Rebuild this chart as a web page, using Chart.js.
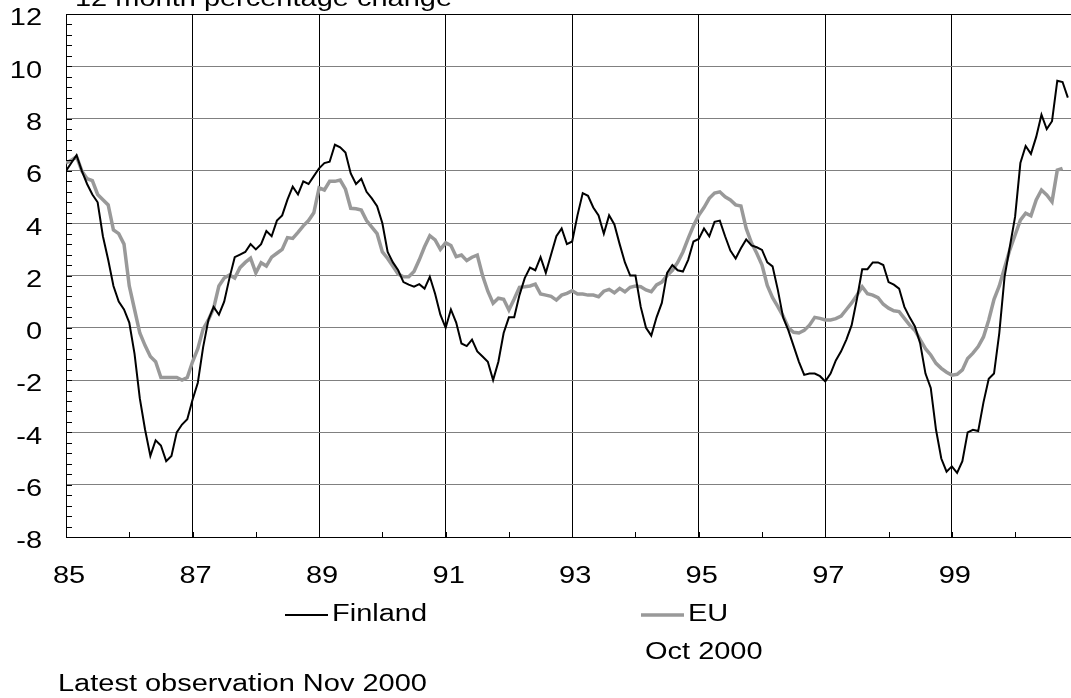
<!DOCTYPE html>
<html><head><meta charset="utf-8">
<script src="https://cdn.jsdelivr.net/npm/chart.js@4.4.0/dist/chart.umd.min.js"></script>
<style>html,body{margin:0;padding:0;background:#fff;overflow:hidden}canvas{display:block}</style>
</head><body>
<canvas id="c" width="1071" height="698"></canvas>
<script>
// Monthly 12-month % change, index 0 = Jan 1985
const finland = [
6.0, 6.3, 6.6, 6.0, 5.5, 5.1, 4.8, 3.5, 2.6, 1.6,
1.0, 0.7, 0.2, -1.0, -2.7, -3.9, -4.9, -4.3, -4.5, -5.1,
-4.9, -4.0, -3.7, -3.5, -2.75, -2.1, -0.75, 0.3, 0.8, 0.5,
1.0, 1.9, 2.7, 2.8, 2.9, 3.2, 3.0, 3.2, 3.7, 3.5,
4.1, 4.3, 4.9, 5.4, 5.1, 5.6, 5.5, 5.8, 6.1, 6.3,
6.35, 7.0, 6.9, 6.7, 5.9, 5.5, 5.7, 5.2, 4.95, 4.65,
4.0, 2.9, 2.5, 2.2, 1.75, 1.65, 1.57, 1.67, 1.5, 1.95,
1.3, 0.5, 0.0, 0.7, 0.2, -0.6, -0.7, -0.45, -0.9, -1.1,
-1.3, -2.0, -1.3, -0.2, 0.4, 0.4, 1.25, 1.9, 2.3, 2.2,
2.7, 2.1, 2.8, 3.5, 3.8, 3.2, 3.3, 4.3, 5.15, 5.05,
4.6, 4.3, 3.6, 4.3, 3.95, 3.2, 2.5, 2.0, 2.0, 0.8,
0.0, -0.3, 0.4, 0.95, 2.1, 2.4, 2.2, 2.15, 2.6, 3.3,
3.4, 3.8, 3.5, 4.05, 4.1, 3.5, 2.95, 2.65, 3.04, 3.38,
3.15, 3.08, 2.98, 2.5, 2.35, 1.45, 0.4, -0.1, -0.7, -1.3,
-1.8, -1.75, -1.75, -1.85, -2.05, -1.75, -1.25, -0.9, -0.45, 0.1,
1.1, 2.24, 2.24, 2.5, 2.5, 2.4, 1.75, 1.65, 1.5, 0.8,
0.4, 0.05, -0.6, -1.75, -2.3, -3.9, -5.0, -5.5, -5.3, -5.55,
-5.1, -4.0, -3.9, -3.95, -2.85, -1.95, -1.75, -0.2, 1.95, 3.1,
4.25, 6.3, 6.95, 6.65, 7.3, 8.15, 7.6, 7.9, 9.45, 9.4, 8.8
];
const eu = [
6.3, 6.4, 6.55, 6.0, 5.7, 5.63, 5.1, 4.9, 4.7, 3.74,
3.6, 3.2, 1.6, 0.7, -0.2, -0.68, -1.1, -1.3, -1.9, -1.9,
-1.9, -1.9, -2.0, -1.9, -1.3, -0.8, -0.05, 0.3, 0.75, 1.6,
1.9, 2.02, 1.9, 2.3, 2.5, 2.66, 2.1, 2.49, 2.36, 2.7,
2.85, 3.0, 3.45, 3.42, 3.65, 3.9, 4.1, 4.4, 5.35, 5.27,
5.6, 5.6, 5.65, 5.3, 4.57, 4.55, 4.5, 4.1, 3.85, 3.6,
2.9, 2.65, 2.35, 2.05, 1.95, 1.95, 2.15, 2.6, 3.1, 3.52,
3.36, 3.0, 3.25, 3.15, 2.72, 2.78, 2.57, 2.7, 2.78, 2.0,
1.4, 0.94, 1.13, 1.09, 0.68, 1.1, 1.55, 1.57, 1.6, 1.67,
1.29, 1.25, 1.2, 1.06, 1.25, 1.32, 1.42, 1.29, 1.29, 1.25,
1.25, 1.19, 1.4, 1.47, 1.34, 1.51, 1.38, 1.55, 1.6, 1.57,
1.45, 1.38, 1.64, 1.75, 2.0, 2.2, 2.5, 2.9, 3.42, 3.9,
4.3, 4.6, 4.95, 5.15, 5.2, 5.01, 4.89, 4.7, 4.66, 3.8,
3.25, 2.85, 2.4, 1.62, 1.15, 0.81, 0.45, 0.0, -0.17, -0.2,
-0.1, 0.1, 0.4, 0.36, 0.3, 0.3, 0.35, 0.45, 0.7, 0.95,
1.25, 1.57, 1.3, 1.25, 1.15, 0.9, 0.75, 0.65, 0.62, 0.36,
0.1, -0.1, -0.45, -0.8, -1.04, -1.36, -1.55, -1.7, -1.81, -1.78,
-1.61, -1.17, -0.97, -0.72, -0.35, 0.3, 1.09, 1.6, 2.3, 2.98,
3.55, 4.12, 4.38, 4.28, 4.89, 5.27, 5.08, 4.82, 6.03, 6.1
];
const seriesNames = ['Finland', 'EU'];
const xTickLabels = ['85', '87', '89', '91', '93', '95', '97', '99'];
const yTickLabels = ['-8', '-6', '-4', '-2', '0', '2', '4', '6', '8', '10', '12'];
const titleText = '12 month percentage change';
const noteTexts = ['Latest observation Nov 2000', 'Oct 2000'];

const FONT = '23px "Liberation Sans", Arial, sans-serif';
const SX = 1.26;
function stext(ctx, t, x, y, align, base) {
  ctx.save();
  ctx.translate(x, y);
  ctx.scale(SX, 1);
  ctx.font = FONT;
  ctx.fillStyle = '#000';
  ctx.textAlign = align;
  ctx.textBaseline = base;
  ctx.fillText(t, 0, 0);
  ctx.restore();
}

const overlay = {
  id: 'overlay',
  afterDraw(chart) {
    const ctx = chart.ctx, xs = chart.scales.x, ys = chart.scales.y, a = chart.chartArea;
    ctx.save();
    ctx.strokeStyle = '#000';
    ctx.lineWidth = 1;
    ctx.beginPath();
    ctx.moveTo(a.left, a.top + 0.5); ctx.lineTo(a.right, a.top + 0.5);
    for (let i = 0; i <= 50; i++) {
      const y = Math.round(ys.getPixelForValue(-8 + i * 0.4)) + 0.5;
      ctx.moveTo(a.left, y); ctx.lineTo(a.left + 6, y);
    }
    for (let m = 0; m <= xs.max; m += 12) {
      const x = Math.round(xs.getPixelForValue(m)) + 0.5;
      ctx.moveTo(x, a.bottom); ctx.lineTo(x, a.bottom - 5);
    }
    ctx.stroke();
    ctx.restore();

    ys.ticks.forEach((t, i) => {
      stext(ctx, yTickLabels[i], 42, ys.getPixelForValue(t.value) + 5, 'right', 'middle');
    });
    xs.ticks.forEach(t => {
      if (t.value % 24 === 0) {
        stext(ctx, xTickLabels[t.value / 24], xs.getPixelForValue(t.value) + 3, 577, 'center', 'middle');
      }
    });

    stext(ctx, titleText, 75, 6, 'left', 'alphabetic');

    const legX = [285, 641];
    chart.data.datasets.forEach((ds, i) => {
      ctx.save();
      ctx.strokeStyle = ds.borderColor;
      ctx.lineWidth = ds.borderWidth;
      ctx.beginPath();
      ctx.moveTo(legX[i], 615); ctx.lineTo(legX[i] + 43, 615);
      ctx.stroke();
      ctx.restore();
      stext(ctx, ds.label, legX[i] + 47, 615, 'left', 'middle');
    });

    stext(ctx, noteTexts[0], 58, 685, 'left', 'middle');
    stext(ctx, noteTexts[1], 645, 653, 'left', 'middle');
  }
};

new Chart(document.getElementById('c'), {
  type: 'line',
  data: {
    datasets: [
      { label: seriesNames[0], data: finland.map((v, i) => ({ x: i, y: v })),
        borderColor: '#000000', borderWidth: 2, pointRadius: 0, tension: 0, fill: false },
      { label: seriesNames[1], data: eu.map((v, i) => ({ x: i, y: v })),
        borderColor: '#999999', borderWidth: 3.5, pointRadius: 0, tension: 0, fill: false }
    ]
  },
  options: {
    responsive: false,
    animation: false,
    devicePixelRatio: 1,
    layout: { padding: { top: 14, left: 0, right: 0, bottom: 0 } },
    plugins: { legend: { display: false }, tooltip: { enabled: false } },
    scales: {
      x: {
        type: 'linear', min: 0, max: 190.6,
        ticks: { stepSize: 12, display: false, includeBounds: false },
        grid: {
          drawTicks: false, lineWidth: 1,
          color: c => (c.tick && c.tick.value > 0 && c.tick.value % 24 === 0) ? '#000000' : 'rgba(0,0,0,0)'
        },
        border: { color: '#000000', width: 1 },
        afterFit: s => { s.height = 161; }
      },
      y: {
        min: -8, max: 12,
        ticks: { stepSize: 2, display: false },
        grid: {
          drawTicks: false, lineWidth: 1,
          color: c => (c.tick && c.tick.value === 12) ? '#000000' : '#808080'
        },
        border: { color: '#000000', width: 1 },
        afterFit: s => { s.width = 66; }
      }
    }
  },
  plugins: [overlay]
});
</script>
</body></html>
